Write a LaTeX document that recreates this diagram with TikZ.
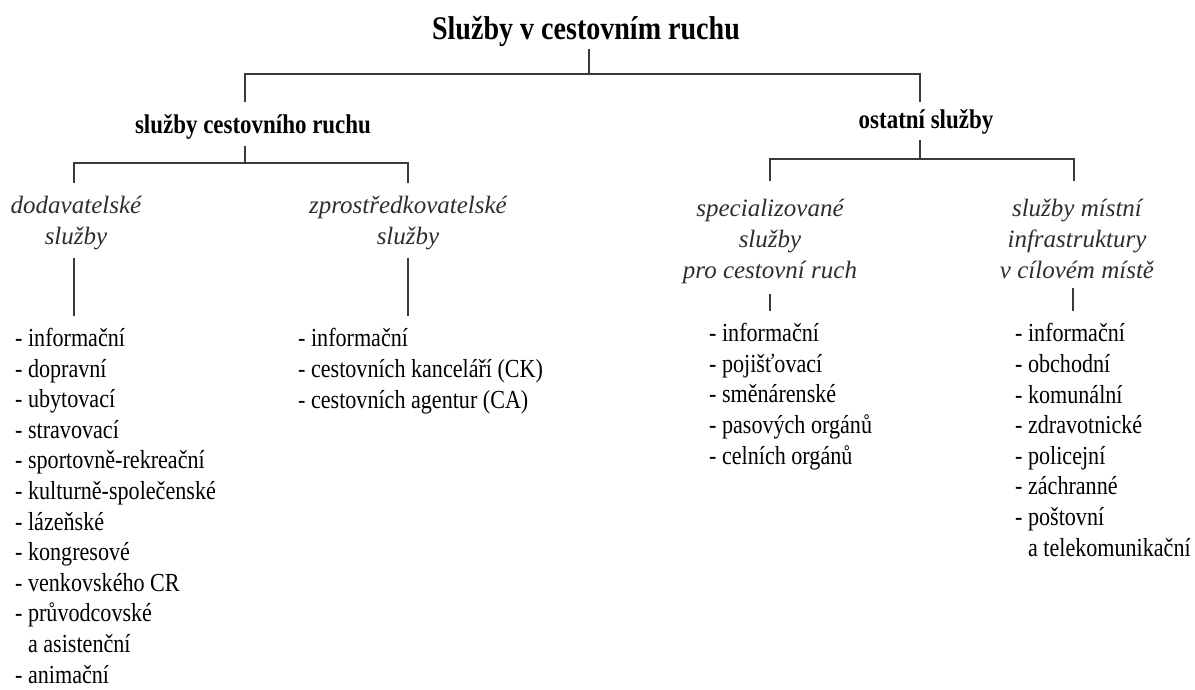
\documentclass[tikz,border=0pt]{standalone}
\usepackage{fontspec}
\setmainfont{Liberation Serif}[FakeStretch=0.85]
\newfontfamily\labelfont{Liberation Serif}
\usepackage{xcolor}
\usetikzlibrary{positioning,calc}
\definecolor{linegray}{HTML}{3A3A3A}
\definecolor{labelgray}{HTML}{2E2E2E}

\begin{document}
\begin{tikzpicture}[
    x=1pt, y=-1pt,
    head/.style={font=\fontsize{33}{38}\selectfont\bfseries, inner sep=0pt, anchor=base},
    group/.style={font=\fontsize{27}{31}\selectfont\bfseries, inner sep=0pt, anchor=base},
    kind/.style={font=\labelfont\itshape\fontsize{25}{31}\selectfont, text=labelgray, align=center, inner sep=0pt, anchor=base},
    items/.style={font=\fontsize{26}{30.6}\selectfont, align=left, inner sep=0pt, anchor=base west},
    conn/.style={draw=linegray, line width=1.6pt},
    thinconn/.style={draw=linegray, line width=1.2pt},
]
\useasboundingbox (0,0) rectangle (1195,689);

% Title
\node[head] (title) at (586,39) {Služby v cestovním ruchu};

% Groups
\node[group] (scr) at (253,133) {služby cestovního ruchu};
\node[group] (ost) at (926,128) {ostatní služby};

% Kinds of services (placed at the baseline of their last line)
\node[kind] (dod) at (76,244) {dodavatelské\\služby};
\node[kind] (zpr) at (408,244) {zprostředkovatelské\\služby};
\node[kind] (spec) at (770,278) {specializované\\služby\\pro cestovní ruch};
\node[kind] (mist) at (1077,278) {služby místní\\infrastruktury\\v cílovém místě};

% Item lists (placed at the baseline of their last line)
\node[items] (ldod) at (15,683) {- informační\\- dopravní\\- ubytovací\\- stravovací\\- sportovně-rekreační\\- kulturně-společenské\\- lázeňské\\- kongresové\\- venkovského CR\\- průvodcovské\\\hphantom{- }a asistenční\\- animační};
\node[items] (lzpr) at (298,408) {- informační\\- cestovních kanceláří (CK)\\- cestovních agentur (CA)};
\node[items] (lspec) at (709,464) {- informační\\- pojišťovací\\- směnárenské\\- pasových orgánů\\- celních orgánů};
\node[items] (lmist) at (1015,556) {- informační\\- obchodní\\- komunální\\- zdravotnické\\- policejní\\- záchranné\\- poštovní\\\hphantom{- }a telekomunikační};

% Title to groups
\draw[conn] ([xshift=3pt,yshift=-10pt]title.base) -- ++(0,25) coordinate (bar0);
\draw[conn] ([xshift=-8pt,yshift=31pt]scr.base) |- (bar0) -| ([xshift=-6pt,yshift=26pt]ost.base);

% Groups to kinds
\draw[conn] ([xshift=-8pt,yshift=-13pt]scr.base) -- ++(0,17) coordinate (bar1);
\draw[conn] ([xshift=-2pt,yshift=61pt]dod.base) |- (bar1) -| ([yshift=61pt]zpr.base);
\draw[conn] ([xshift=-6pt,yshift=-12pt]ost.base) -- ++(0,19) coordinate (bar2);
\draw[conn] ([yshift=97pt]spec.base) |- (bar2) -| ([xshift=-3pt,yshift=97pt]mist.base);

% Kinds to item lists
\draw[thinconn] ($(dod.south)+(-2,8)$) -- ($(dod.south |- ldod.north)+(-2,-12)$);
\draw[thinconn] ($(zpr.south)+(0,8)$) -- ($(zpr.south |- lzpr.north)+(0,-12)$);
\draw[thinconn] ($(spec.south)+(0,10)$) -- ($(spec.south |- lspec.north)+(0,-12)$);
\draw[thinconn] ($(mist.south)+(-4,10)$) -- ($(mist.south |- lmist.north)+(-4,-12)$);

\end{tikzpicture}
\end{document}
